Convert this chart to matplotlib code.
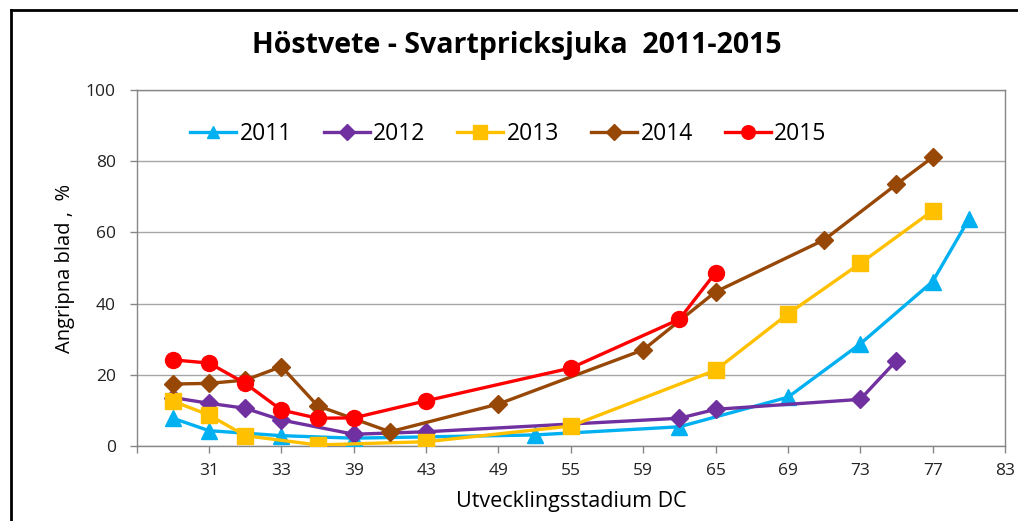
import matplotlib
matplotlib.use("Agg")
import matplotlib.pyplot as plt
from matplotlib.lines import Line2D

plt.rcParams['font.family'] = ['Open Sans', 'DejaVu Sans']

# Category axis tick labels (positions 0..12 on the axis)
tick_labels = ['', '31', '33', '39', '43', '49', '55', '59', '65', '69', '73', '77', '83']

# Series: x = position on the category axis, y = % infected leaves
x_2011 = [0.5, 1, 2, 3, 5.5, 7.5, 9, 10, 11, 11.5]
y_2011 = [7.8, 4.3, 2.9, 2.2, 3.1, 5.4, 13.7, 28.7, 46.2, 63.7]

x_2012 = [0.5, 1, 1.5, 2, 3, 4, 7.5, 8, 10, 10.5]
y_2012 = [13.6, 12.0, 10.6, 7.3, 3.3, 4.0, 7.8, 10.3, 13.1, 24.0]

x_2013 = [0.5, 1, 1.5, 2.5, 4, 6, 8, 9, 10, 11]
y_2013 = [12.6, 8.7, 2.9, 0.3, 1.2, 5.6, 21.3, 37.1, 51.3, 66.1]

x_2014 = [0.5, 1, 1.5, 2, 2.5, 3.5, 5, 7, 8, 9.5, 10.5, 11]
y_2014 = [17.4, 17.6, 18.5, 22.3, 11.3, 4.0, 11.8, 27.0, 43.3, 57.9, 73.5, 81.1]

x_2015 = [0.5, 1, 1.5, 2, 2.5, 3, 4, 6, 7.5, 8]
y_2015 = [24.2, 23.3, 17.6, 10.1, 7.8, 7.9, 12.7, 21.9, 35.6, 48.7]

series = [
    ('2011', x_2011, y_2011, '#00B0F0', '^', 11),
    ('2012', x_2012, y_2012, '#7030A0', 'D', 9),
    ('2013', x_2013, y_2013, '#FFC000', 's', 11.5),
    ('2014', x_2014, y_2014, '#974706', 'D', 9),
    ('2015', x_2015, y_2015, '#FF0000', 'o', 11.5),
]

W, H = 1018, 521
fig = plt.figure(figsize=(W / 100, H / 100), dpi=100)
ax = fig.add_axes([136.7 / W, 1 - 446 / H, (1005 - 136.7) / W, (446 - 90) / H])

for name, xs, ys, c, m, ms in series:
    ax.plot(xs, ys, color=c, lw=2.4, marker=m, markersize=ms,
            markerfacecolor=c, markeredgecolor=c, label=name, zorder=3)

ax.set_xlim(0, 12)
ax.set_ylim(0, 100)
ax.set_xticks(range(len(tick_labels)))
ax.set_xticklabels(tick_labels)
ax.set_yticks([0, 20, 40, 60, 80, 100])
ax.tick_params(axis='both', direction='out', length=5, width=1, color='#868686',
               labelsize=12.5, labelcolor='#222222')
ax.tick_params(axis='x', pad=7)
ax.tick_params(axis='y', pad=10)
ax.grid(axis='y', color='#A6A6A6', lw=1)
ax.set_axisbelow(True)
for s in ax.spines.values():
    s.set_color('#868686')
    s.set_linewidth(1)

ax.set_xlabel('Utvecklingsstadium DC', fontsize=15.5, labelpad=9)
ax.set_ylabel('Angripna blad ,  %', fontsize=14.5, labelpad=8)

fig.text(517 / W, 1 - 46 / H, 'Höstvete - Svartpricksjuka  2011-2015',
         ha='center', va='center', fontsize=20.5, fontweight='bold')

leg = ax.legend(loc='upper left', bbox_to_anchor=(0.051, 0.936), ncol=5,
                frameon=False, fontsize=16.5, handlelength=2.0, handletextpad=0.15,
                columnspacing=1.4, borderaxespad=0, markerscale=0.85)

# outer chart border (left and top)
fig.add_artist(Line2D([11 / W, 11 / W], [0, 1 - 10 / H], color='black', lw=2,
                      transform=fig.transFigure))
fig.add_artist(Line2D([11 / W, 1], [1 - 10 / H, 1 - 10 / H], color='black', lw=2,
                      transform=fig.transFigure))

fig.savefig('out.png', dpi=100)
